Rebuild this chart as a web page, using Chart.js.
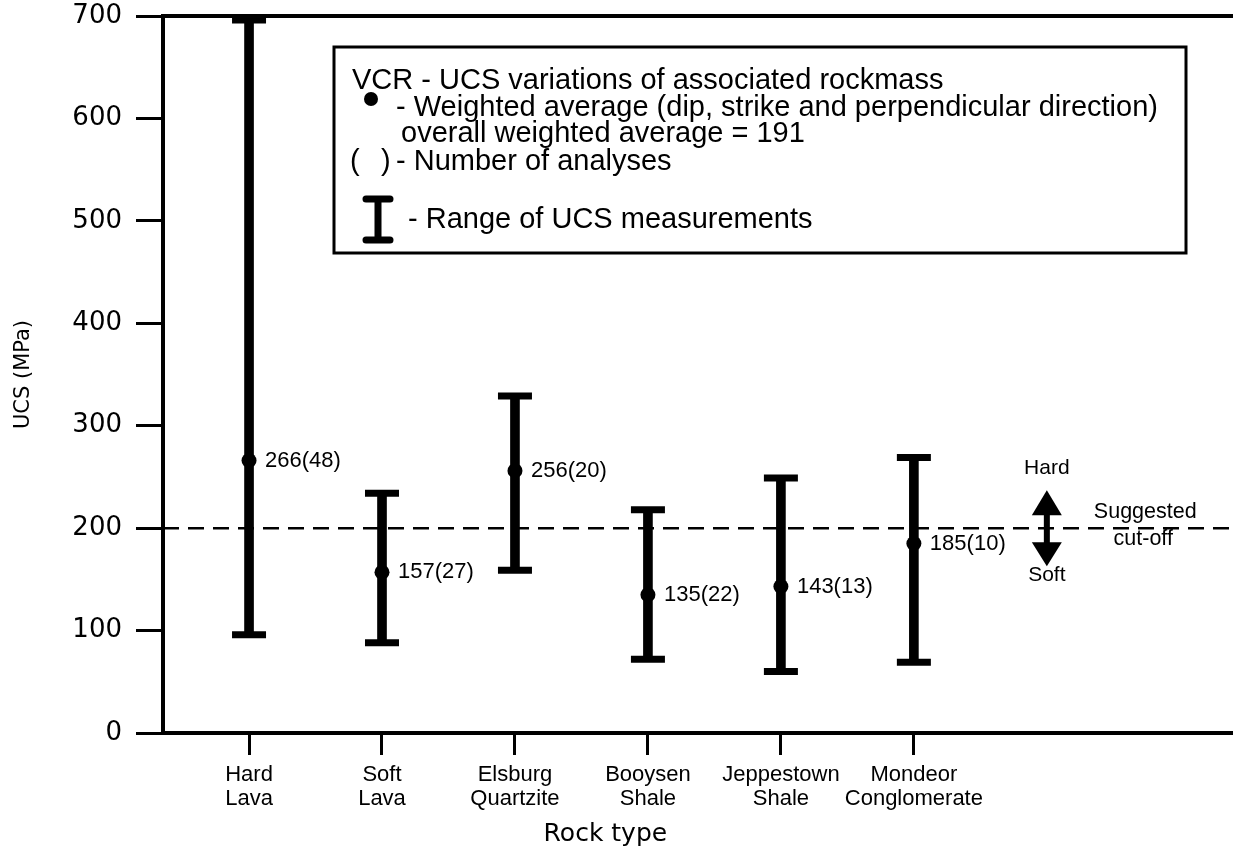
<!DOCTYPE html>
<html>
<head>
<meta charset="utf-8">
<script src="https://cdn.jsdelivr.net/npm/chart.js@4.4.1/dist/chart.umd.min.js"></script>
<style>
  html, body { margin: 0; padding: 0; background: #fff; overflow: hidden; }
  #wrap { width: 1233px; height: 855px; position: relative; }
</style>
</head>
<body>
<div id="wrap"><canvas id="ucsChart"></canvas></div>
<script>
// ===== DATA =====
const rockTypes = [
  ["Hard", "Lava"],
  ["Soft", "Lava"],
  ["Elsburg", "Quartzite"],
  ["Booysen", "Shale"],
  ["Jeppestown", "Shale"],
  ["Mondeor", "Conglomerate"]
];
const ucsMin = [96, 88, 159, 72, 60, 69];
const ucsMax = [696, 234, 329, 218, 249, 269];
const weightedAvg = [266, 157, 256, 135, 143, 185];
const analyses = [48, 27, 20, 22, 13, 10];
const yTicks = [0, 100, 200, 300, 400, 500, 600, 700];
const cutOff = 200;

const legendLines = [
  "VCR - UCS variations of associated rockmass",
  "- Weighted average (dip, strike and perpendicular direction)",
  "overall weighted average = 191",
  "- Number of analyses",
  "- Range of UCS measurements"
];

const textFamily = '"Liberation Sans", Arial, sans-serif';
const wideFamily = '"DejaVu Sans", sans-serif';

const xMin = -0.647;
const xMax = 7.4;

// drop the extra padding Chart.js keeps for edge labels
function zeroPadding(scale) {
  scale.paddingTop = 0;
  scale.paddingBottom = 0;
  scale.paddingLeft = 0;
  scale.paddingRight = 0;
}

/* ===============================
   ANNOTATIONS (frame, cut-off, legend box, labels)
   =============================== */
const annotations = {
  id: "annotations",
  beforeDatasetsDraw(chart) {
    const { ctx, chartArea, scales } = chart;
    ctx.save();
    // top frame line
    ctx.strokeStyle = "#000";
    ctx.lineWidth = 4;
    ctx.beginPath();
    ctx.moveTo(chartArea.left - 2, chartArea.top);
    ctx.lineTo(chart.width, chartArea.top);
    ctx.stroke();

    // suggested cut-off
    const yc = scales.y.getPixelForValue(cutOff);
    ctx.lineWidth = 2.5;
    ctx.setLineDash([16, 9]);
    ctx.beginPath();
    ctx.moveTo(chartArea.left, yc);
    ctx.lineTo(chart.width, yc);
    ctx.stroke();
    ctx.restore();
  },
  afterDatasetsDraw(chart) {
    const { ctx, scales } = chart;
    const x = scales.x, y = scales.y;
    ctx.save();
    ctx.fillStyle = "#000";
    ctx.strokeStyle = "#000";

    // value labels beside the averages
    ctx.font = `22px ${textFamily}`;
    ctx.textBaseline = "middle";
    ctx.textAlign = "left";
    chart.getDatasetMeta(2).data.forEach((pt, i) => {
      ctx.fillText(`${weightedAvg[i]}(${analyses[i]})`, pt.x + 16, pt.y);
    });

    // hard / soft arrow
    const ax = x.getPixelForValue(6);
    const ay = y.getPixelForValue(cutOff);
    ctx.beginPath();
    ctx.moveTo(ax, ay - 38);
    ctx.lineTo(ax + 15, ay - 13);
    ctx.lineTo(ax - 15, ay - 13);
    ctx.closePath();
    ctx.fill();
    ctx.beginPath();
    ctx.moveTo(ax, ay + 38);
    ctx.lineTo(ax + 15, ay + 14);
    ctx.lineTo(ax - 15, ay + 14);
    ctx.closePath();
    ctx.fill();
    ctx.fillRect(ax - 3, ay - 15, 6, 31);

    ctx.textAlign = "center";
    ctx.font = `21px ${textFamily}`;
    ctx.fillText("Hard", ax, ay - 60);
    ctx.fillText("Soft", ax, ay + 47);
    const sx = x.getPixelForValue(6.74);
    ctx.font = `21.5px ${textFamily}`;
    ctx.fillText("Suggested", sx, ay - 16);
    ctx.fillText("cut-off", sx - 2, ay + 11);

    // x axis title
    ctx.font = `25px ${wideFamily}`;
    ctx.fillText("Rock type", x.getPixelForValue(2.68), 834);

    // legend box
    ctx.lineWidth = 3;
    ctx.strokeRect(334, 47, 852, 206);
    ctx.textAlign = "left";
    ctx.font = `29px ${textFamily}`;
    ctx.fillText(legendLines[0], 352, 81);
    ctx.beginPath();
    ctx.arc(371, 99, 7, 0, Math.PI * 2);
    ctx.fill();
    ctx.fillText(legendLines[1], 396, 108);
    ctx.fillText(legendLines[2], 401, 134);
    ctx.fillText("(", 350, 162);
    ctx.fillText(")", 381, 162);
    ctx.fillText(legendLines[3], 396, 162);
    ctx.fillText(legendLines[4], 408, 220);
    // I-beam symbol
    ctx.lineWidth = 7;
    ctx.lineCap = "round";
    ctx.beginPath();
    ctx.moveTo(366, 199); ctx.lineTo(390, 199);
    ctx.moveTo(366, 240); ctx.lineTo(390, 240);
    ctx.moveTo(378, 199); ctx.lineTo(378, 240);
    ctx.stroke();
    ctx.restore();
  }
};

const ctx = document.getElementById("ucsChart");

new Chart(ctx, {
  type: "scatter",
  data: {
    datasets: [
      {
        // range stems
        type: "bar",
        data: rockTypes.map((_, i) => ({ x: i, y: [ucsMin[i], ucsMax[i]] })),
        backgroundColor: "#000",
        borderWidth: 0,
        barThickness: 9
      },
      {
        // range caps
        data: [
          ...ucsMin.map((v, i) => ({ x: i, y: v })),
          ...ucsMax.map((v, i) => ({ x: i, y: v }))
        ],
        pointStyle: "line",
        pointRadius: 17,
        pointBorderWidth: 7,
        pointBorderColor: "#000",
        borderColor: "#000",
        clip: false
      },
      {
        // weighted averages
        data: weightedAvg.map((v, i) => ({ x: i, y: v })),
        pointRadius: 7.5,
        pointBackgroundColor: "#000",
        pointBorderWidth: 0
      }
    ]
  },
  options: {
    responsive: true,
    maintainAspectRatio: false,
    devicePixelRatio: 1,
    animation: false,
    events: [],
    layout: { autoPadding: false, padding: { top: 16, left: 0, right: 0, bottom: 0 } },
    plugins: {
      legend: { display: false },
      tooltip: { enabled: false }
    },
    scales: {
      x: {
        type: "linear",
        min: xMin,
        max: xMax,
        offset: false,
        afterBuildTicks: scale => {
          scale.ticks = rockTypes.map((_, i) => ({ value: i }));
        },
        afterFit: scale => {
          scale.height = 122;
          zeroPadding(scale);
        },
        ticks: {
          autoSkip: false,
          maxRotation: 0,
          color: "#000",
          padding: 8,
          font: { family: textFamily, size: 22, lineHeight: 1.09 },
          callback: value => rockTypes[value]
        },
        grid: {
          offset: false,
          drawOnChartArea: false,
          tickLength: 22,
          tickWidth: 3,
          tickColor: "#000"
        },
        border: { display: true, color: "#000", width: 4 }
      },
      y: {
        min: 0,
        max: 700,
        afterBuildTicks: scale => {
          scale.ticks = yTicks.map(v => ({ value: v }));
        },
        afterFit: scale => {
          scale.width = 163;
          zeroPadding(scale);
        },
        ticks: {
          color: "#000",
          padding: 14,
          font: { family: wideFamily, size: 26 }
        },
        grid: {
          drawOnChartArea: false,
          tickLength: 27,
          tickWidth: 3,
          tickColor: "#000"
        },
        border: { display: true, color: "#000", width: 4 },
        title: {
          display: true,
          text: "UCS (MPa)",
          color: "#000",
          font: { family: wideFamily, size: 21 },
          padding: { top: 11, bottom: 0 }
        }
      }
    }
  },
  plugins: [annotations]
});
</script>
</body>
</html>
